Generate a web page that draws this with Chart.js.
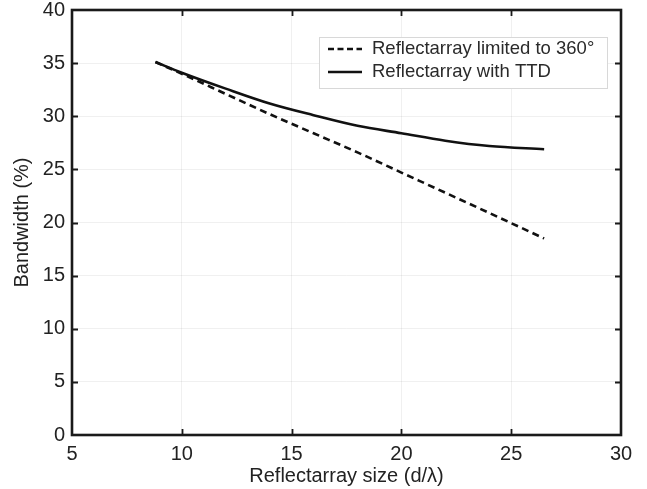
<!DOCTYPE html>
<html>
<head>
<meta charset="utf-8">
<script src="https://cdn.jsdelivr.net/npm/chart.js@4/dist/chart.umd.min.js"></script>
<style>
  html, body { margin: 0; padding: 0; background: #fff; }
  canvas { display: block; }
</style>
</head>
<body>
<canvas id="c" width="647" height="489"></canvas>
<script>
// Reflectarray size in wavelengths (d/λ)
const sizes = [8.8, 10, 12, 14, 16, 18, 20, 22, 24, 26.5];
// Bandwidth (%) when the phase range is limited to 360°
const limited360 = [35.1, 34.0, 32.1, 30.2, 28.4, 26.6, 24.7, 22.8, 20.9, 18.5];
// Bandwidth (%) with true-time-delay elements
const withTTD = [35.1, 34.1, 32.6, 31.2, 30.1, 29.1, 28.4, 27.7, 27.2, 26.9];

const xTicks = [5, 10, 15, 20, 25, 30];
const yTicks = [0, 5, 10, 15, 20, 25, 30, 35, 40];

const seriesNames = ['Reflectarray limited to 360°', 'Reflectarray with TTD'];

const FONT = '"Liberation Sans", Arial, Helvetica, sans-serif';
const INK = '#1a1a1a';

const toPoints = (xs, ys) => xs.map((x, i) => ({ x, y: ys[i] }));

// Box frame, inward tick marks and an inset legend
const framePlugin = {
  id: 'frame',
  afterDatasetsDraw(chart) {
    const { ctx, chartArea: a, scales } = chart;
    ctx.save();
    ctx.strokeStyle = INK;
    ctx.lineWidth = 1.8;
    ctx.beginPath();
    xTicks.forEach(v => {
      const px = Math.round(scales.x.getPixelForValue(v)) + 0.5;
      if (v === xTicks[0] || v === xTicks[xTicks.length - 1]) return;
      ctx.moveTo(px, a.bottom); ctx.lineTo(px, a.bottom - 6);
      ctx.moveTo(px, a.top); ctx.lineTo(px, a.top + 6);
    });
    yTicks.forEach(v => {
      const py = Math.round(scales.y.getPixelForValue(v)) + 0.5;
      if (v === yTicks[0] || v === yTicks[yTicks.length - 1]) return;
      ctx.moveTo(a.left, py); ctx.lineTo(a.left + 6, py);
      ctx.moveTo(a.right, py); ctx.lineTo(a.right - 6, py);
    });
    ctx.stroke();
    ctx.lineWidth = 2.6;
    ctx.strokeRect(a.left, a.top, a.right - a.left, a.bottom - a.top);

    // legend
    const lx = 319, ly = 37, lw = 288, lh = 51;
    ctx.fillStyle = '#fff';
    ctx.fillRect(lx, ly, lw, lh);
    ctx.strokeStyle = '#d8d8d8';
    ctx.lineWidth = 1;
    ctx.strokeRect(lx + 0.5, ly + 0.5, lw, lh);
    ctx.font = '18.5px ' + FONT;
    ctx.textBaseline = 'middle';
    chart.data.datasets.forEach((ds, i) => {
      const y = ly + 12 + i * 23;
      ctx.strokeStyle = ds.borderColor;
      ctx.lineWidth = 2.4;
      ctx.setLineDash(ds.borderDash ? [6, 3.5] : []);
      ctx.beginPath();
      ctx.moveTo(lx + 9, y);
      ctx.lineTo(lx + 43, y);
      ctx.stroke();
      ctx.setLineDash([]);
      ctx.fillStyle = '#2a2a2a';
      ctx.fillText(ds.label, lx + 53, y);
    });
    ctx.restore();
  }
};

new Chart(document.getElementById('c'), {
  type: 'line',
  data: {
    datasets: [
      {
        label: seriesNames[0],
        data: toPoints(sizes, limited360),
        borderColor: '#111',
        borderWidth: 2.6,
        borderDash: [7, 4.5],
        pointRadius: 0,
        cubicInterpolationMode: 'monotone',
        fill: false
      },
      {
        label: seriesNames[1],
        data: toPoints(sizes, withTTD),
        borderColor: '#111',
        borderWidth: 2.6,
        pointRadius: 0,
        cubicInterpolationMode: 'monotone',
        fill: false
      }
    ]
  },
  options: {
    responsive: false,
    animation: false,
    devicePixelRatio: 1,
    layout: { padding: { left: 0, right: 26, top: 10, bottom: 0 } },
    plugins: {
      legend: { display: false },
      tooltip: { enabled: false }
    },
    scales: {
      x: {
        type: 'linear',
        min: 5,
        max: 30,
        afterBuildTicks: s => { s.ticks = xTicks.map(v => ({ value: v })); },
        afterFit: s => { s.height = 54; s.paddingLeft = 0; s.paddingRight = 0; },
        border: { display: false },
        grid: {
          drawTicks: false,
          color: 'rgba(0,0,0,0.06)',
          lineWidth: 1
        },
        ticks: {
          padding: 7,
          color: '#222',
          font: { family: FONT, size: 20 },
          maxRotation: 0
        },
        title: {
          display: true,
          text: 'Reflectarray size (d/λ)',
          color: '#222',
          font: { family: FONT, size: 20 },
          padding: { top: 0, bottom: 1 }
        }
      },
      y: {
        type: 'linear',
        min: 0,
        max: 40,
        afterBuildTicks: s => { s.ticks = yTicks.map(v => ({ value: v })); },
        afterFit: s => { s.width = 72; s.paddingTop = 0; s.paddingBottom = 0; },
        border: { display: false },
        grid: {
          drawTicks: false,
          color: 'rgba(0,0,0,0.06)',
          lineWidth: 1
        },
        ticks: {
          padding: 7,
          color: '#222',
          font: { family: FONT, size: 20 }
        },
        title: {
          display: true,
          text: 'Bandwidth (%)',
          color: '#222',
          font: { family: FONT, size: 20 },
          padding: { top: 10, bottom: 0 }
        }
      }
    }
  },
  plugins: [framePlugin]
});
</script>
</body>
</html>
